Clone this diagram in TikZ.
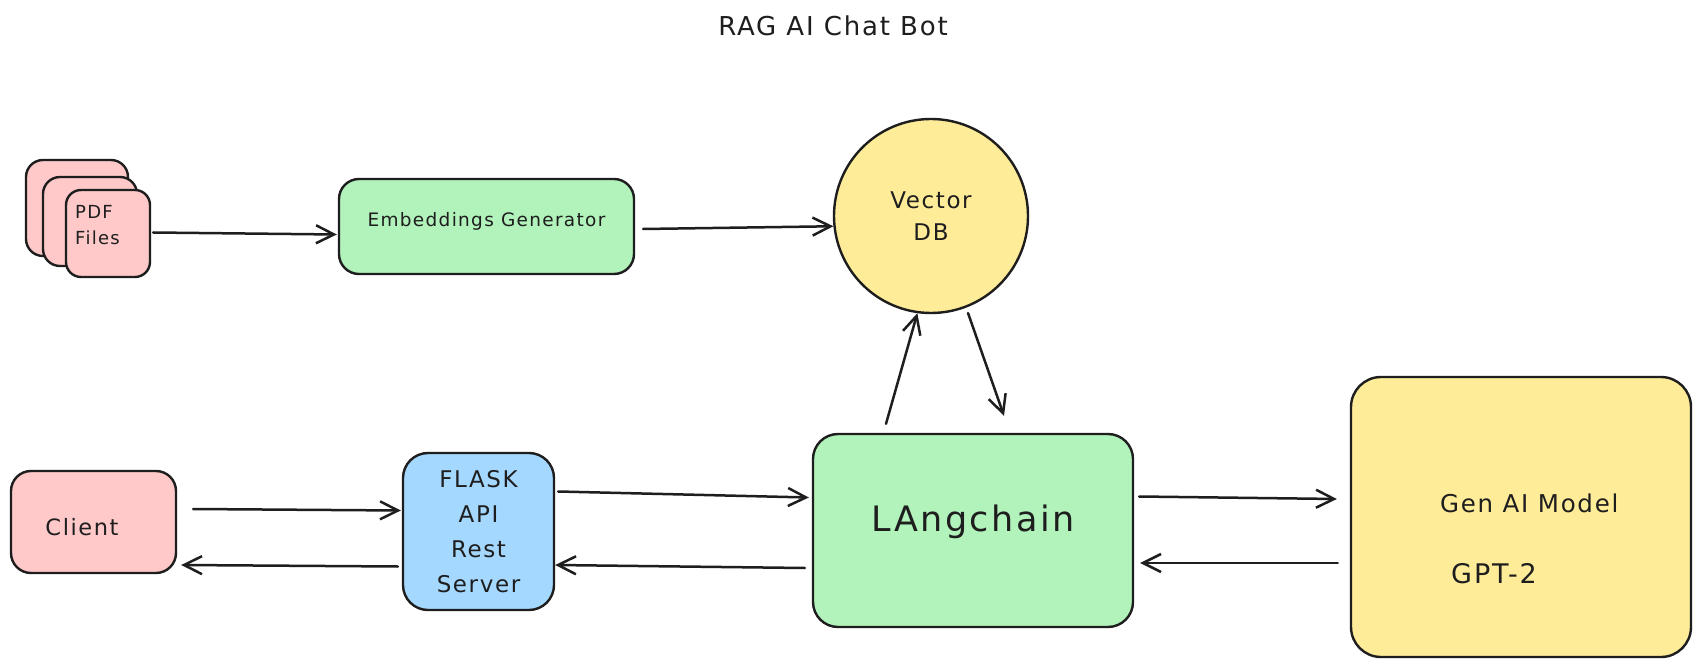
\documentclass[tikz,border=0pt]{standalone}
\usepackage{fontspec}
\setmainfont{DejaVu Sans}[LetterSpace=7]
\usetikzlibrary{arrows.meta,calc}
\definecolor{ink}{HTML}{1E1E1E}
\definecolor{pinkf}{HTML}{FFC9C9}
\definecolor{greenf}{HTML}{B2F2BB}
\definecolor{yellowf}{HTML}{FFEC99}
\definecolor{bluef}{HTML}{A5D8FF}
\newcommand{\fsz}[2]{\fontsize{#1}{#2}\selectfont}
\begin{document}
\begin{tikzpicture}[x=1pt,y=-1pt,
  box/.style={draw=ink, line width=2.4pt, inner sep=0pt, text=ink},
  txt/.style={text=ink, inner sep=0pt},
  arr/.style={draw=ink, line width=2.5pt, line cap=round,
    -{Straight Barb[length=18pt,width=18pt,line width=2.5pt]}}]
\useasboundingbox (0,0) rectangle (1700,668);
\fill[white] (0,0) rectangle (1700,668);

\node[txt, font=\fsz{26}{30}] (title) at (833,26) {RAG AI Chat Bot};

% PDF stack
\node[box, fill=pinkf, rounded corners=17pt, minimum width=102pt, minimum height=96pt] (pdf3) at (77,208) {};
\node[box, fill=pinkf, rounded corners=17pt, minimum width=94pt, minimum height=89pt] (pdf2) at (90,221.5) {};
\node[box, fill=pinkf, rounded corners=15pt, minimum width=84pt, minimum height=87pt] (pdf1) at (108,233.5) {};
\node[txt, anchor=west, align=left, font=\fsz{18}{26}] (pdftxt) at (75,225) {PDF\\Files};

% Embeddings
\node[box, fill=greenf, rounded corners=20pt, minimum width=295pt, minimum height=95pt,
  font=\fsz{18.5}{22}] (emb) at (486.5,226.5) {\raisebox{5pt}[\height][\depth]{Embeddings Generator}};

% Vector DB
\node[box, fill=yellowf, circle, minimum size=194pt, align=center,
  font=\fsz{23}{32}] (db) at (931,216) {Vector\\DB};

% Langchain
\node[box, fill=greenf, rounded corners=25pt, minimum width=320pt, minimum height=193pt,
  font=\fsz{35}{40}] (lc) at (973,530.5) {\raisebox{9pt}[\height][\depth]{LAngchain}};

% Gen AI
\node[box, fill=yellowf, rounded corners=30pt, minimum width=340pt, minimum height=280pt] (gen) at (1521,517) {};
\node[txt, anchor=west, font=\fsz{24.5}{28}] (gentxt) at (1440,503) {Gen AI Model};
\node[txt, anchor=west, font=\fsz{27}{30}] (gpttxt) at (1451,574) {GPT-2};

% Client
\node[box, fill=pinkf, rounded corners=20pt, minimum width=165pt, minimum height=102pt,
  font=\fsz{22.5}{26}] (client) at (93.5,522) {\raisebox{-5pt}[\height][\depth]{Client}\kern23pt\relax};

% Flask
\node[box, fill=bluef, rounded corners=25pt, minimum width=151pt, minimum height=157pt,
  align=center, font=\fsz{23}{35}] (flask) at (478.5,531.5) {FLASK\\API\\Rest\\Server};

% connectors
\draw[arr] ($(pdf1.east)+(2,-1)$) -- ($(emb.west)+(-1,8)$);
\draw[arr] ($(emb.east)+(8,2.5)$) -- (db.186);
\draw[arr] ($(lc.north)+(-87,-9)$) -- (db.262);
\draw[arr] ($(db.center)+(37,97)$) -- ($(lc.north)+(31,-17)$);
\draw[arr] ($(lc.east)+(5,-34)$) -- ($(gen.west)+(-13,-18)$);
\draw[arr] ($(gen.west)+(-12,46)$) -- ($(lc.east)+(6,32.5)$);
\draw[arr] ($(client.east)+(16,-13)$) -- ($(flask.west)+(-1,-21)$);
\draw[arr] ($(flask.west)+(-4,35)$) -- ($(client.east)+(4,43)$);
\draw[arr] ($(flask.east)+(3,-40)$) -- ($(lc.west)+(-3,-33)$);
\draw[arr] ($(lc.west)+(-7,37.5)$) -- ($(flask.east)+(0,33.5)$);
\end{tikzpicture}
\end{document}
